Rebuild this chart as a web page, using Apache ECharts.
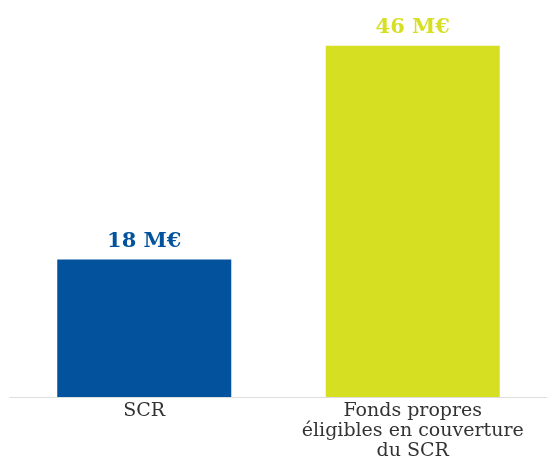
<!DOCTYPE html>
<html>
<head>
<meta charset="utf-8">
<script src="https://cdn.jsdelivr.net/npm/echarts@6/dist/echarts.min.js"></script>
<style>
  html, body { margin: 0; padding: 0; background: #fff; width: 100%; height: 100%; overflow: hidden; }
  #chart { width: 100%; height: 100%; }
</style>
</head>
<body>
<div id="chart"></div>
<script>
// Solvency figures, in millions of euros
const categories = ['SCR', 'Fonds propres\néligibles en couverture\ndu SCR'];
const values = [18, 46];
const barColors = ['#03529D', '#D6DF22'];

const serif = '"DejaVu Serif", serif';

const chart = echarts.init(document.getElementById('chart'));
chart.setOption({
  animation: false,
  grid: { left: 10, right: -3, top: 0, bottom: 61, containLabel: false },
  xAxis: {
    type: 'category',
    data: categories,
    axisTick: { show: false },
    axisLine: { lineStyle: { color: '#dddddd', width: 1 } },
    axisLabel: {
      color: '#333333',
      fontFamily: serif,
      fontSize: 19,
      lineHeight: 20,
      margin: 4,
      interval: 0
    }
  },
  yAxis: {
    type: 'value',
    min: 0,
    max: 52,
    show: false,
    splitLine: { show: false }
  },
  series: [{
    type: 'bar',
    barWidth: 174,
    data: values.map((v, i) => ({
      value: v,
      itemStyle: { color: barColors[i] },
      label: { color: barColors[i] }
    })),
    label: {
      show: true,
      position: 'top',
      distance: 8,
      fontFamily: serif,
      fontWeight: 'bold',
      fontSize: 21,
      formatter: p => p.value + ' M€'
    }
  }]
});
</script>
</body>
</html>
